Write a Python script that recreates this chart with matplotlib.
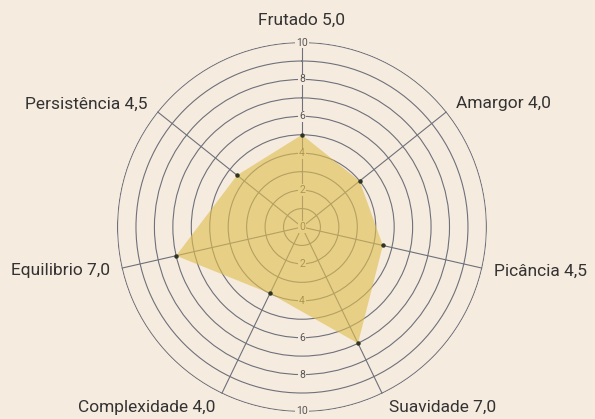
import numpy as np
import matplotlib.pyplot as plt

categories = ['Frutado', 'Amargor', 'Picância', 'Suavidade', 'Complexidade', 'Equilibrio', 'Persistência']
values = [5.0, 4.0, 4.5, 7.0, 4.0, 7.0, 4.5]
tick_vals = [0, 2, 4, 6, 8, 10]

bg = '#f6ebdf'
grid_col = '#6d717b'
text_col = '#333333'

plt.rcParams['font.family'] = ['Roboto', 'DejaVu Sans']

n = len(categories)
angles = np.linspace(0, 2 * np.pi, n, endpoint=False)

fig = plt.figure(figsize=(5.95, 4.19), dpi=100, facecolor=bg)
ax = fig.add_axes([0.1966, 0.0167, 0.6218, 0.883], projection='polar')
ax.set_facecolor(bg)
ax.set_theta_zero_location('N')
ax.set_theta_direction(-1)
ax.set_ylim(0, 10.03)
ax.spines['polar'].set_visible(False)

ax.set_xticks(angles)
ax.set_xticklabels([])
ax.set_yticks(range(1, 11))
ax.set_yticklabels([])
ax.set_axisbelow(True)
ax.grid(True, color=grid_col, linewidth=0.8)

# radial tick labels, up and down the vertical axis
for v in tick_vals:
    for th in ([0] if v == 0 else [0, np.pi]):
        ax.text(th, v, str(v), ha='center', va='center', fontsize=7.5, color='#555555',
                zorder=1.5, bbox=dict(facecolor=bg, edgecolor='none', pad=0.5))

closed_a = np.append(angles, angles[0])
closed_v = np.append(values, values[0])
ax.fill(closed_a, closed_v, color='#e0be50', alpha=0.62, zorder=2, linewidth=0)
ax.plot(angles, values, 'o', color='#2f3322', markersize=2.2, zorder=3)

for a, cat, v in zip(angles, categories, values):
    s = np.sin(a)
    c = np.cos(a)
    if abs(s) < 0.1:
        ha, r = 'center', 11.2
    elif s > 0:
        ha, r = 'left', 10.7
    else:
        ha, r = 'right', 10.7
    if c < -0.8:
        r = 10.85
    label = f'{cat} {v:.1f}'.replace('.', ',')
    ax.text(a, r, label, ha=ha, va='center', fontsize=12.5, color=text_col, clip_on=False)

fig.savefig('out.png', dpi=100, facecolor=bg)
